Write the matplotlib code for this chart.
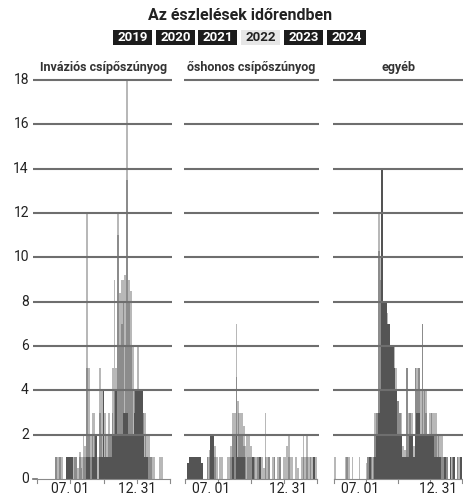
import matplotlib
matplotlib.use("Agg")
import matplotlib.pyplot as plt
from matplotlib.patches import Rectangle
import numpy as np

plt.rcParams['font.family'] = ['Roboto', 'DejaVu Sans']

TITLE = "Az észlelések időrendben"
YEARS = ["2019", "2020", "2021", "2022", "2023", "2024"]
ACTIVE_YEAR = "2022"
PANEL_TITLES = ["Inváziós csípőszúnyog", "őshonos csípőszúnyog", "egyéb"]
X_LABELS = ["07. 01", "12. 31"]
Y_TICKS = [0, 2, 4, 6, 8, 10, 12, 14, 16, 18]
BIN_DAYS = 5  # each bar = 5-day bin, season spans 365 days

# Invasive mosquitoes: light (top), mid, dark layers
inv_light = [0, 0, 0, 0, 0, 0, 0, 0, 0, 0,
             1, 1, 1, 1, 0, 0, 1, 1, 1, 1,
             1, 1, 0.5, 1.2, 1, 2, 1.5, 12, 5, 2,
             3, 3, 2, 1, 5, 4, 4, 3, 2, 3,
             2, 5, 9, 5, 12, 8.4, 9, 9, 9.2, 18,
             9, 8.5, 6, 4, 4, 6, 4, 4, 3, 3,
             2, 2, 1, 1, 1, 0, 0, 1, 1, 0,
             0, 0, 0]
inv_mid = [0, 0, 0, 0, 0, 0, 0, 0, 0, 0,
           1, 0, 1, 0, 0, 0, 0, 0, 0, 0,
           1, 1, 0, 1, 0.5, 1, 1, 5, 2, 1,
           2, 2, 0, 0, 3, 2, 0, 2, 1, 2,
           2, 3, 4, 4, 11, 6, 7, 8, 6, 13.5,
           8, 6, 4, 4, 0, 0, 0, 0, 3, 2,
           1, 1, 1, 0, 0, 0, 0, 0, 0, 0,
           0, 0, 0]
inv_dark = [0, 0, 0, 0, 0, 0, 0, 0, 0, 0,
            0, 0, 0, 0, 0, 0, 1, 1, 1, 1,
            0, 0, 0, 0, 0, 0, 0, 1, 1, 0,
            1, 1, 2, 0, 1, 1, 4, 1, 1, 1,
            1, 2, 2, 4, 2, 2, 2, 3, 3, 3,
            2, 2, 2, 3, 4, 4, 4, 4, 2, 1,
            1, 0, 0, 0, 0, 0, 0, 0, 0, 0,
            0, 0, 0]

# Native mosquitoes
nat_light = [0, 0.7, 1, 1, 1, 1, 1, 1, 1, 0.7,
             0, 0, 1, 1.3, 2, 2, 1.5, 1, 0, 1,
             1, 0, 0, 1, 1, 1.5, 3, 3, 7, 3.5,
             3, 3, 2.4, 1.5, 2, 2, 1.5, 1, 1, 1,
             1, 1, 1, 0.5, 3, 1, 1, 0, 1, 1,
             0, 1, 1, 0, 1, 1, 1.5, 2, 1, 1,
             0, 1, 0.5, 0, 1, 2, 1, 2, 1, 1,
             1, 1, 1]
nat_mid = [0, 0, 0, 0, 0, 0, 0, 0, 0, 0,
           0, 0, 1, 1, 0, 0, 1, 0, 0, 0,
           0, 0, 0, 0, 0, 1, 2, 2, 4.6, 3,
           2, 2, 1.5, 1, 1, 1, 1, 0, 1, 0,
           1, 0, 0, 0, 1, 0, 1, 0, 0, 1,
           0, 0, 1, 0, 0, 0, 0, 1, 0, 0,
           0, 0, 0, 0, 0, 1, 0, 1, 0, 1,
           0, 0, 0]
nat_dark = [0, 0.7, 1, 1, 1, 1, 1, 1, 1, 0.7,
            0, 0, 0, 0, 2, 2, 0, 0, 0, 0,
            0, 0, 0, 0, 0, 0, 1, 0, 2, 1,
            1, 1, 1, 0, 0, 0, 0, 1, 0, 0,
            0, 1, 0, 0, 0, 0, 0, 0, 0, 0,
            0, 0, 0, 0, 0, 0, 0, 0, 0, 0,
            0, 0, 0, 0, 0, 0, 0, 0, 0, 0,
            0, 1, 0]

# Other
oth_light = [1, 0, 0, 0, 0, 0, 1, 1, 1, 0,
             1, 0, 0, 0, 1, 0, 0, 0, 0.7, 1,
             1, 1, 1, 3, 3, 12, 10, 14, 8, 8,
             7.5, 7, 6, 6, 6, 5, 3.5, 3, 3, 1.5,
             1.3, 5, 3, 3, 3, 1.5, 5, 5, 5, 4,
             7, 4, 4, 2, 3, 3, 3, 3, 3, 2,
             2, 2, 1, 1, 1, 0, 1, 1, 1, 0,
             1, 1, 1]
oth_mid = [0, 0, 0, 0, 0, 0, 0, 1, 0, 0,
           0, 0, 0, 0, 0, 0, 0, 0, 0, 1,
           0, 1, 1, 2, 3, 10.3, 9, 9, 8, 0,
           0, 0, 0, 0, 0, 0, 3.5, 3, 2, 0,
           0, 5, 2, 3, 0, 0, 5, 4, 5, 0,
           7, 4, 3, 2, 2, 3, 2, 2, 2, 2,
           1, 1, 1, 0, 1, 0, 0, 1, 0, 0,
           1, 0, 0]
oth_dark = [0, 0, 0, 0, 0, 0, 0, 0, 0, 0,
            0, 0, 0, 0, 0, 0, 0, 0, 0, 0,
            1, 0, 0, 1, 2, 3, 4, 14, 8, 8,
            7, 7, 6, 6, 5, 4, 2, 2, 2, 1,
            1, 1, 1, 2, 2, 1, 2, 3, 3, 2,
            2, 2, 2, 2, 2, 2, 2, 1, 1, 1,
            1, 0, 0, 1, 0, 0, 1, 0, 1, 0,
            0, 0, 1]

SERIES = [(inv_light, inv_mid, inv_dark),
          (nat_light, nat_mid, nat_dark),
          (oth_light, oth_mid, oth_dark)]

LIGHT, MID, DARK = "#b8b8b8", "#8c8c8c", "#545454"
GRID = "#6e6e6e"

W, H = 463, 500
fig = plt.figure(figsize=(W / 100, H / 100), dpi=100)
fig.patch.set_facecolor("white")

def fx(px):
    return px / W

def fy(py):
    return 1 - py / H

# Title
fig.text(fx(240), fy(15), TITLE, ha="center", va="center",
         fontsize=11.5, fontweight="bold", color="#222222")

# Year buttons
box_left = [113, 156, 198, 241, 284, 327]
for yr, bl in zip(YEARS, box_left):
    active = yr == ACTIVE_YEAR
    fig.patches.append(Rectangle((fx(bl), fy(45)), 39 / W, 15 / H,
                                 transform=fig.transFigure,
                                 facecolor="#e6e6e6" if active else "#1c1c1c",
                                 edgecolor="none"))
    fig.text(fx(bl + 19.5), fy(37.5), yr, ha="center", va="center",
             fontsize=9.5, fontweight="bold",
             color="#222222" if active else "white")

panels = [(37, 170), (185, 317), (334, 462)]
label_px = [(70, 137), (211, 288), (360, 438)]
top_px, bot_px = 80, 479
nb = len(inv_light)
x = np.arange(nb) * BIN_DAYS + BIN_DAYS / 2

for k, ((l, r), title, (lt, md, dk), lp) in enumerate(zip(panels, PANEL_TITLES, SERIES, label_px)):
    ax = fig.add_axes([fx(l), fy(bot_px), (r - l) / W, (bot_px - top_px) / H])
    ax.set_xlim(0, 365)
    ax.set_ylim(0, 18)
    ax.axis("off")
    ax.bar(x, lt, width=BIN_DAYS, color=LIGHT, linewidth=0, zorder=1)
    ax.bar(x, md, width=BIN_DAYS * 0.9, color=MID, linewidth=0, zorder=2)
    ax.bar(x, dk, width=BIN_DAYS, color=DARK, linewidth=0, zorder=3)
    w = r - l
    x0 = -4 / w if k == 0 else -1 / w
    x1 = 1 + 1.5 / w
    tr = ax.get_yaxis_transform()
    for yv in Y_TICKS[1:]:
        ax.plot([x0, x1], [yv, yv], transform=tr, color=GRID, lw=1.5,
                clip_on=False, zorder=5, solid_capstyle="butt")
    # baseline with ticks
    ax.plot([0, 1], [0, 0], transform=tr, color="#8a8a8a", lw=0.8,
            clip_on=False, zorder=5)
    if k == 0:
        ax.plot([x0, 0], [0, 0], transform=tr, color=GRID, lw=1.2,
                clip_on=False, zorder=5)
    for q in [0, 0.25, 0.5, 0.75, 1.0]:
        ax.plot([q, q], [0, -0.2], transform=tr, color="#8a8a8a", lw=0.8,
                clip_on=False, zorder=5)
    for lab, p in zip(X_LABELS, lp):
        fig.text(fx(p), fy(489), lab, ha="center", va="center",
                 fontsize=10, color="#222222")
    fig.text(fx((l + r) / 2), fy(67), title, ha="center", va="center",
             fontsize=9, fontweight="bold", color="#333333")
    if k == 0:
        for yv in Y_TICKS:
            yp = bot_px - (bot_px - top_px) * yv / 18
            fig.text(fx(29), fy(yp), str(yv), ha="right", va="center",
                     fontsize=10, color="#222222")

fig.savefig("out.png", dpi=100, facecolor="white")
